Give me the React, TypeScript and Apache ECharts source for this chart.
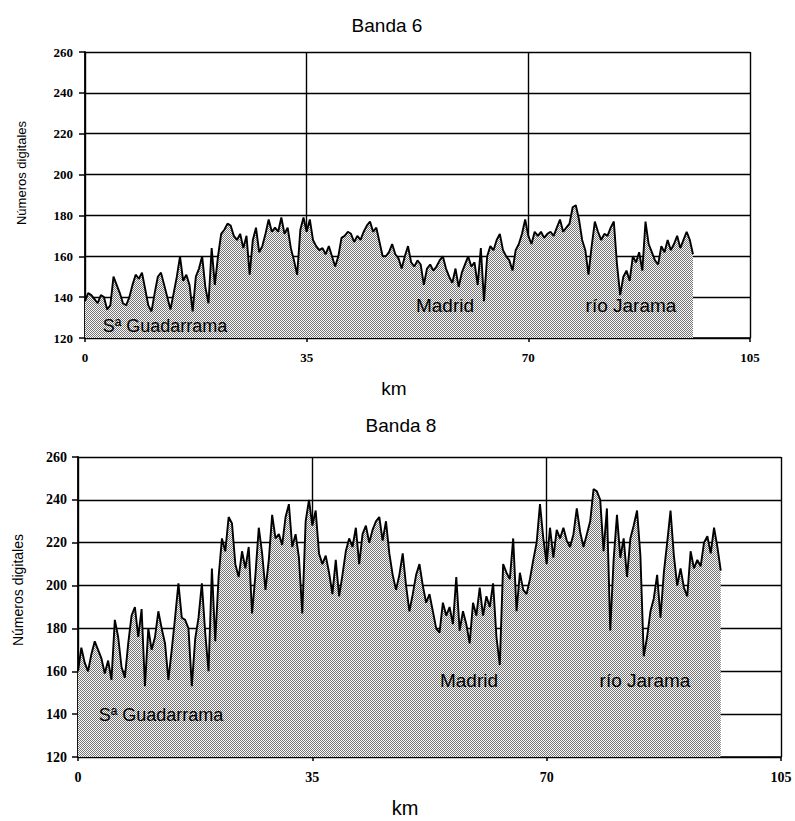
import React, { useEffect, useRef } from "react";
import * as echarts from "echarts";

// Sampling step along the transect (km)
const KM_STEP = 0.5;
const X_MIN = 0;
const X_MAX = 105;
const X_INTERVAL = 35;
const Y_MIN = 120;
const Y_MAX = 260;
const Y_INTERVAL = 20;

const TITLES = ["Banda 6", "Banda 8"];
const Y_NAME = "Números digitales";
const X_NAME = "km";
const PLACE_LABELS = ["Sª Guadarrama", "Madrid", "río Jarama"];

// Banda 6 digital numbers, every 0.5 km from 0 to 96 km
const BANDA6 = [
  138, 142, 141, 139, 137, 141, 140, 134, 136, 150,
  146, 142, 137, 136, 140, 146, 151, 149, 152, 144,
  136, 133, 142, 150, 152, 146, 140, 134, 142, 150,
  160, 148, 151, 146, 133, 150, 154, 160, 145, 137,
  164, 146, 160, 171, 173, 176, 175, 170, 168, 171,
  164, 170, 151, 168, 174, 162, 165, 171, 178, 172,
  174, 172, 179, 171, 174, 164, 158, 151, 173, 179,
  172, 178, 168, 165, 163, 164, 161, 165, 160, 155,
  160, 169, 170, 172, 171, 167, 170, 168, 172, 175,
  177, 172, 174, 167, 160, 160, 162, 166, 161, 159,
  154, 160, 165, 157, 155, 158, 156, 146, 154, 156,
  153, 155, 158, 160, 154, 150, 147, 154, 145, 152,
  156, 160, 155, 157, 146, 164, 138, 160, 165, 163,
  168, 171, 163, 160, 158, 153, 163, 166, 171, 178,
  170, 166, 172, 170, 172, 169, 171, 172, 170, 174,
  178, 172, 174, 176, 184, 185, 178, 168, 163, 151,
  165, 177, 172, 168, 171, 170, 174, 177, 156, 141,
  150, 153, 148, 160, 157, 162, 153, 177, 166, 162,
  158, 156, 165, 162, 168, 163, 166, 170, 164, 168,
  172, 168, 161,
];

// Banda 8 digital numbers, every 0.5 km from 0 to 96 km
const BANDA8 = [
  160, 171, 164, 160, 168, 174, 170, 166, 159, 165,
  156, 184, 176, 162, 157, 173, 186, 190, 176, 189,
  153, 180, 170, 176, 188, 180, 173, 156, 170, 185,
  201, 185, 184, 180, 153, 175, 185, 201, 178, 160,
  208, 174, 204, 222, 216, 232, 229, 210, 204, 216,
  208, 218, 187, 205, 227, 215, 198, 212, 233, 222,
  224, 219, 232, 238, 218, 224, 213, 187, 230, 240,
  228, 235, 215, 210, 214, 206, 196, 212, 195, 205,
  216, 222, 218, 227, 210, 224, 228, 220, 226, 230,
  232, 221, 230, 215, 205, 198, 205, 215, 200, 188,
  196, 205, 210, 200, 192, 196, 188, 180, 178, 192,
  186, 190, 182, 204, 179, 188, 182, 173, 192, 186,
  199, 186, 195, 190, 201, 176, 163, 210, 206, 203,
  222, 188, 206, 198, 196, 203, 212, 220, 238, 222,
  210, 227, 213, 226, 222, 227, 221, 218, 224, 236,
  225, 218, 224, 230, 245, 244, 240, 216, 236, 179,
  212, 233, 213, 222, 204, 222, 228, 235, 214, 167,
  176, 188, 194, 205, 185, 206, 220, 235, 214, 200,
  208, 199, 195, 216, 208, 212, 209, 220, 223, 215,
  227, 218, 207,
];

function toPairs(vals: number[]) {
  return vals.map((v, i) => [i * KM_STEP, v]);
}

export default function App() {
  const ref = useRef<HTMLDivElement | null>(null);

  useEffect(() => {
    if (!ref.current) return;
    const chart = echarts.init(ref.current, null, { renderer: "svg" });

    const cv = document.createElement("canvas");
    cv.width = 2;
    cv.height = 2;
    const ctx = cv.getContext("2d");
    if (ctx) {
      ctx.fillStyle = "#fafafa";
      ctx.fillRect(0, 0, 2, 2);
      ctx.fillStyle = "#757575";
      ctx.fillRect(0, 0, 1, 1);
      ctx.fillRect(1, 1, 1, 1);
    }
    const pattern: any = { image: cv, repeat: "repeat", imageWidth: 2, imageHeight: 2 };

    const tickFont = (size: number) => ({
      fontFamily: "serif",
      fontWeight: "bold",
      fontSize: size,
      color: "#000",
    });

    const makeX = (gi: number, fs: number) => ({
      type: "value",
      gridIndex: gi,
      min: X_MIN,
      max: X_MAX,
      interval: X_INTERVAL,
      axisLine: { show: true, onZero: false, lineStyle: { color: "#000", width: 1.6 } },
      axisTick: { show: true, length: 4, lineStyle: { color: "#000", width: 1.5 } },
      axisLabel: { ...tickFont(fs), margin: 13 },
      splitLine: { show: true, lineStyle: { color: "#000", width: 1.4 } },
    });
    const makeY = (gi: number, fs: number, margin: number) => ({
      type: "value",
      gridIndex: gi,
      min: Y_MIN,
      max: Y_MAX,
      interval: Y_INTERVAL,
      axisLine: { show: true, onZero: false, lineStyle: { color: "#000", width: 1.8 } },
      axisTick: { show: true, length: 6, lineStyle: { color: "#000", width: 1.5 } },
      axisLabel: { ...tickFont(fs), margin },
      splitLine: { show: true, lineStyle: { color: "#000", width: 1.4 } },
    });

    const makeSeries = (gi: number, vals: number[]) => ({
      type: "line",
      xAxisIndex: gi,
      yAxisIndex: gi,
      data: toPairs(vals),
      symbol: "none",
      showSymbol: false,
      silent: true,
      lineStyle: { color: "#000", width: 1.9 },
      areaStyle: { color: pattern, opacity: 1, origin: "start" },
    });

    const txt = (text: string, x: number, y: number, size: number, extra: any = {}) => ({
      type: "text",
      x,
      y,
      silent: true,
      z: 100,
      ...extra,
      style: {
        text,
        fontFamily: "'Liberation Sans', Arial, sans-serif",
        fontSize: size,
        fill: "#000",
        textAlign: "center",
        textVerticalAlign: "middle",
      },
    });

    chart.setOption({
      animation: false,
      backgroundColor: "#fff",
      grid: [
        { left: 85, top: 52, width: 665, height: 286 },
        { left: 78, top: 457, width: 703, height: 300 },
      ],
      xAxis: [makeX(0, 13), makeX(1, 14)],
      yAxis: [makeY(0, 13, 12), makeY(1, 14, 11)],
      series: [makeSeries(0, BANDA6), makeSeries(1, BANDA8)],
      graphic: [
        txt(TITLES[0], 387, 25, 19),
        txt(TITLES[1], 401, 425, 19),
        txt(Y_NAME, 21, 173, 13, { rotation: Math.PI / 2 }),
        txt(Y_NAME, 18, 590, 14, { rotation: Math.PI / 2 }),
        txt(X_NAME, 394, 388, 19),
        txt(X_NAME, 405, 808, 20),
        txt(PLACE_LABELS[0], 165, 326, 18),
        txt(PLACE_LABELS[1], 445, 305, 19),
        txt(PLACE_LABELS[2], 631, 305, 19),
        txt(PLACE_LABELS[0], 161, 715, 18),
        txt(PLACE_LABELS[1], 469, 680, 19),
        txt(PLACE_LABELS[2], 645, 680, 19),
      ],
    });

    return () => chart.dispose();
  }, []);

  return (
    <div
      ref={ref}
      style={{ position: "fixed", left: 0, top: 0, width: 795, height: 821, background: "#fff" }}
    />
  );
}
